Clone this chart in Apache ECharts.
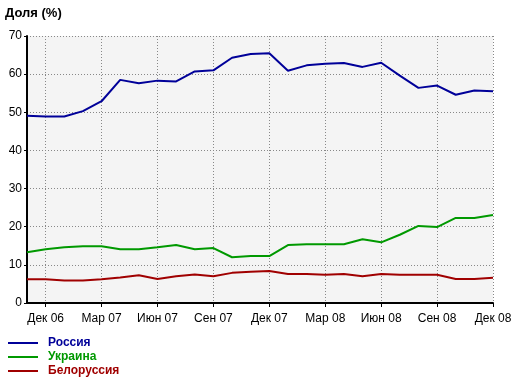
<!DOCTYPE html>
<html><head><meta charset="utf-8">
<script src="https://cdn.jsdelivr.net/npm/echarts@6/dist/echarts.min.js"></script>
<style>html,body{margin:0;padding:0;background:#fff}#c{width:520px;height:379px}</style>
</head><body><div id="c"></div>
<script>
var months = ['Ноя 06','Дек 06','Янв 07','Фев 07','Мар 07','Апр 07','Май 07','Июн 07','Июл 07','Авг 07','Сен 07','Окт 07','Ноя 07','Дек 07','Янв 08','Фев 08','Мар 08','Апр 08','Май 08','Июн 08','Июл 08','Авг 08','Сен 08','Окт 08','Ноя 08','Дек 08'];
var tickLabels = ['Дек 06','Мар 07','Июн 07','Сен 07','Дек 07','Мар 08','Июн 08','Сен 08','Дек 08'];
var russia  = [49.1,48.9,48.9,50.3,52.9,58.5,57.6,58.3,58.1,60.7,61.0,64.3,65.3,65.5,60.9,62.3,62.7,62.9,61.9,63.0,59.6,56.4,57.0,54.6,55.7,55.5];
var ukraine = [13.3,14.1,14.6,14.9,14.9,14.1,14.1,14.6,15.2,14.1,14.4,12.0,12.3,12.3,15.2,15.4,15.4,15.4,16.7,15.9,17.9,20.2,19.9,22.3,22.3,23.1];
var belarus = [6.2,6.2,5.9,5.9,6.2,6.7,7.3,6.3,7.0,7.5,7.0,7.9,8.2,8.4,7.6,7.6,7.4,7.6,7.0,7.6,7.4,7.4,7.4,6.3,6.3,6.6];
var seriesNames = ['Россия','Украина','Белоруссия'];
var colors = ['#000099','#009900','#a00000'];
var yTitle = 'Доля (%)';

var chart = echarts.init(document.getElementById('c'));
var isTick = function(i){ return tickLabels.indexOf(months[i]) >= 0; };
chart.setOption({
  animation:false,
  textStyle:{fontFamily:'Liberation Sans, Arial, sans-serif'},
  title:{text:yTitle,left:0,top:2,textStyle:{fontSize:13,fontWeight:'bold',color:'#000'}},
  grid:{left:27,right:27,top:36,bottom:76,show:true,backgroundColor:'#f4f4f4',borderWidth:0},
  legend:{orient:'vertical',left:8,top:337,padding:0,itemWidth:30,itemHeight:2,itemGap:2,icon:'rect',
    data:seriesNames.map(function(n,i){return {name:n,textStyle:{color:colors[i]}};}),
    textStyle:{fontSize:12,fontWeight:'bold',padding:[0,0,0,5]}},
  xAxis:{type:'category',data:months,boundaryGap:false,
    axisLine:{lineStyle:{color:'#000',width:2}},
    axisTick:{show:true,interval:function(i){return isTick(i);},length:4,lineStyle:{color:'#000'}},
    axisLabel:{interval:function(i){return isTick(i);},color:'#000',fontSize:12,margin:10},
    splitLine:{show:true,interval:function(i){return isTick(i);},lineStyle:{color:'#888',type:[1,2],width:1}}},
  yAxis:{type:'value',min:0,max:70,interval:10,
    axisLine:{show:true,lineStyle:{color:'#000',width:2}},
    axisTick:{show:true,length:3,lineStyle:{color:'#000'}},
    axisLabel:{color:'#000',fontSize:12,margin:5},
    splitLine:{show:true,lineStyle:{color:'#888',type:[1,2],width:1}}},
  series:[russia,ukraine,belarus].map(function(d,i){
    return {name:seriesNames[i],type:'line',data:d,symbol:'none',color:colors[i],z:3,
      lineStyle:{width:2,color:colors[i]}};
  })
});
</script></body></html>
